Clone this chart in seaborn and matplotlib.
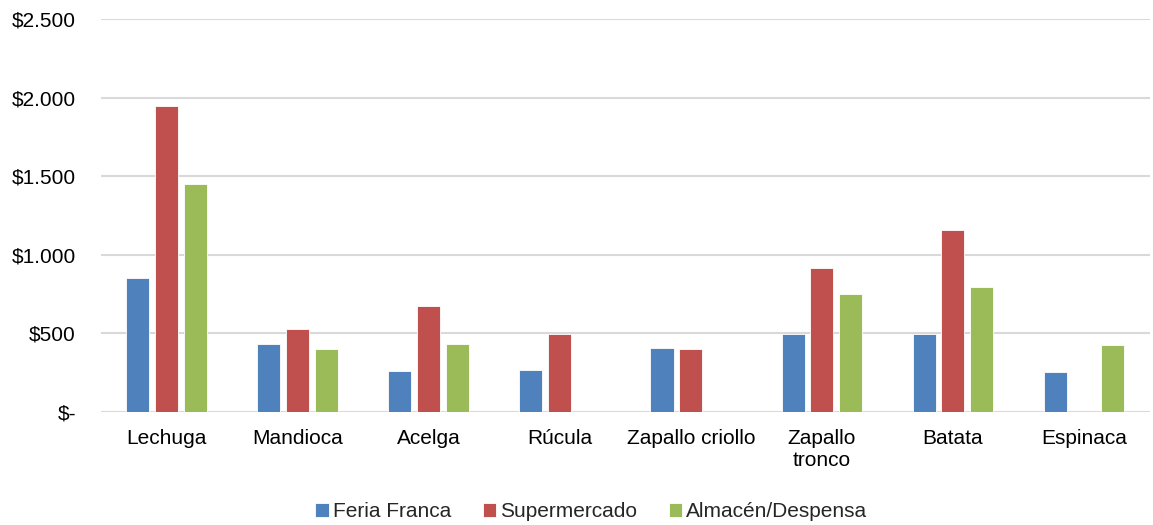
import pandas as pd
import numpy as np
import matplotlib.pyplot as plt
import seaborn as sns

categories = ["Lechuga", "Mandioca", "Acelga", "Rúcula", "Zapallo criollo",
              "Zapallo tronco", "Batata", "Espinaca"]
tick_labels = ["Lechuga", "Mandioca", "Acelga", "Rúcula", "Zapallo criollo",
               "Zapallo\ntronco", "Batata", "Espinaca"]
series = ["Feria Franca", "Supermercado", "Almacén/Despensa"]
feria_franca = [850, 430, 263, 267, 405, 494, 499, 255]
supermercado = [1945, 528, 677, 494, 399, 919, 1157, np.nan]
almacen = [1450, 399, 435, np.nan, np.nan, 749, 798, 424]
colors = ["#4F81BD", "#C0504D", "#9BBB59"]

df = pd.DataFrame({
    "producto": categories * 3,
    "lugar": [s for s in series for _ in categories],
    "precio": feria_franca + supermercado + almacen,
})

sns.set_style("white")
plt.rcParams["font.family"] = ["Liberation Sans", "DejaVu Sans"]

fig = plt.figure(figsize=(11.53, 5.25), dpi=100)
ax = fig.add_axes([0.0876, 0.215, 0.9094, 0.749])

sns.barplot(data=df, x="producto", y="precio", hue="lugar", order=categories,
            hue_order=series, palette=colors, width=0.66, gap=0.2,
            edgecolor="white", linewidth=0.6, saturation=1, ax=ax, legend=True)

ax.set_ylim(0, 2500)
ax.set_yticks(range(0, 2501, 500))
ax.set_yticklabels(["$-" if v == 0 else "$" + f"{v:,}".replace(",", ".")
                    for v in range(0, 2501, 500)])
ax.set_xticks(range(len(categories)))
ax.set_xticklabels(tick_labels)
ax.set_xlim(-0.5, len(categories) - 0.5)
ax.set_xlabel("")
ax.set_ylabel("")
ax.grid(axis="y", color="#D9D9D9", linewidth=1.5)
ax.set_axisbelow(True)
for s in ax.spines.values():
    s.set_visible(False)
ax.tick_params(axis="both", length=0, labelsize=15, colors="#000000")
ax.tick_params(axis="y", pad=18)
ax.tick_params(axis="x", pad=12)

handles, labels = ax.get_legend_handles_labels()
ax.get_legend().remove()
fig.legend(handles, labels, loc="center", bbox_to_anchor=(0.513, 0.025), ncol=3,
           frameon=False, fontsize=15, handlelength=0.65, handleheight=0.65,
           handletextpad=0.2, columnspacing=1.5)

fig.savefig("out.png", dpi=100)
plt.close()
